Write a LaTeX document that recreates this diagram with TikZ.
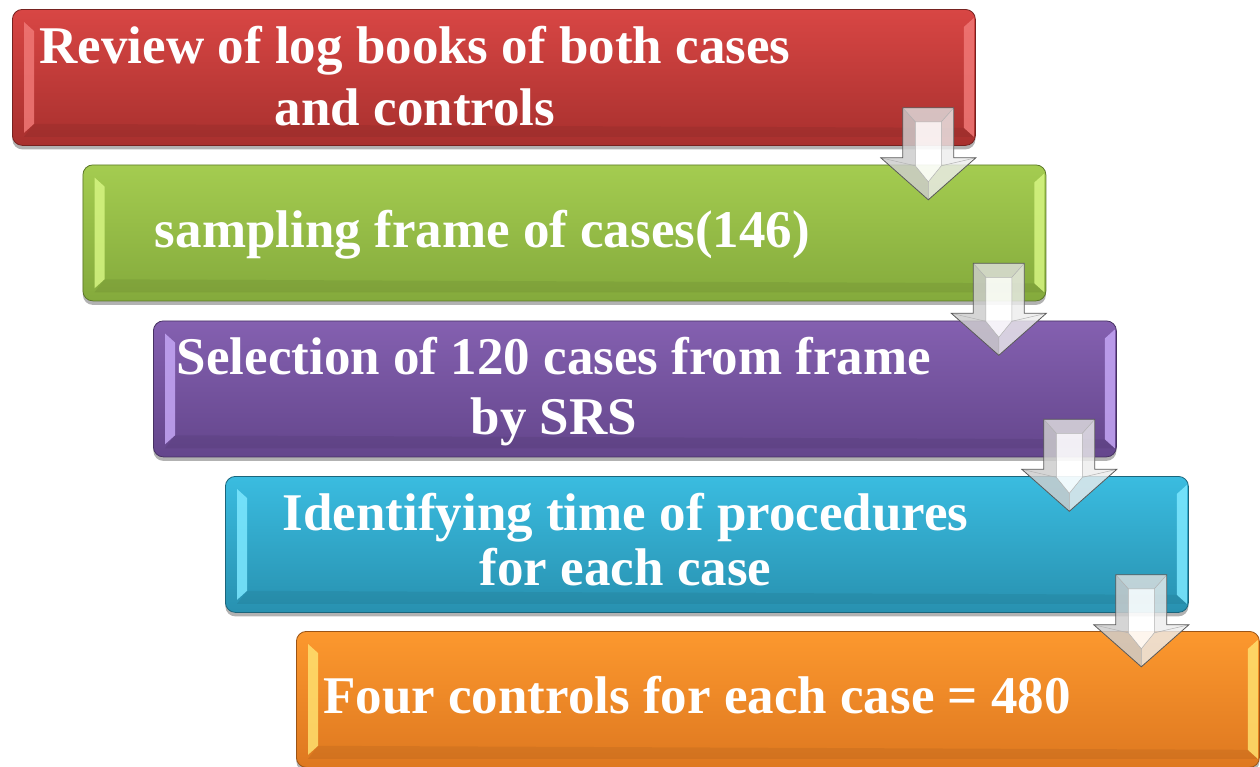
\documentclass[tikz,border=0pt]{standalone}
\usepackage{fontspec}
\setmainfont{Liberation Serif}
\usetikzlibrary{calc,shadows}
\definecolor{redT}{RGB}{216,70,68}
\definecolor{redB}{RGB}{168,48,46}
\definecolor{redL}{RGB}{240,120,118}
\definecolor{greenT}{RGB}{164,204,80}
\definecolor{greenB}{RGB}{132,170,60}
\definecolor{greenL}{RGB}{214,245,130}
\definecolor{purpleT}{RGB}{132,96,176}
\definecolor{purpleB}{RGB}{100,70,140}
\definecolor{purpleL}{RGB}{196,166,245}
\definecolor{cyanT}{RGB}{58,188,224}
\definecolor{cyanB}{RGB}{40,145,176}
\definecolor{cyanL}{RGB}{125,232,255}
\definecolor{orangeT}{RGB}{252,152,46}
\definecolor{orangeB}{RGB}{222,120,32}
\definecolor{orangeL}{RGB}{255,224,110}
\tikzset{
  stepbox/.style={rectangle, rounded corners=10pt, minimum width=963pt,
    minimum height=136pt, inner sep=0pt, anchor=north west, line width=0.8pt,
    drop shadow={shadow xshift=0pt, shadow yshift=-4pt, opacity=0.3, fill=black}},
  steptext/.style={anchor=base, text=white, inner sep=0pt,
    font=\fontsize{53}{60}\selectfont\bfseries},
  arrowline/.style={draw=black!65, line width=0.8pt, line join=miter},
  innerline/.style={draw=black!30, line width=0.5pt},
  blockarrow/.pic={
    \fill[white, opacity=0.8] (-25.5,0) -- (25.5,0) -- (25.5,50) -- (47.5,50) -- (0,92) -- (-47.5,50) -- (-25.5,50) -- cycle;
    \fill[black, opacity=0.16] (-25.5,0) -- (-13,14) -- (-13,58) -- (0,74) -- (0,92) -- (-47.5,50) -- (-25.5,50) -- cycle;
    \fill[black, opacity=0.06] (25.5,0) -- (13,14) -- (13,58) -- (0,74) -- (0,92) -- (47.5,50) -- (25.5,50) -- cycle;
    \fill[black, opacity=0.1] (-25.5,0) -- (25.5,0) -- (13,14) -- (-13,14) -- cycle;
    \fill[white, opacity=0.6] (-13,14) -- (13,14) -- (13,58) -- (0,74) -- (-13,58) -- cycle;
    \draw[innerline] (-25.5,0) -- (-13,14) -- (13,14) -- (25.5,0);
    \draw[innerline] (-13,14) -- (-13,58) -- (0,74) -- (13,58) -- (13,14);
    \draw[innerline] (-47.5,50) -- (-13,58) (47.5,50) -- (13,58) (0,74) -- (0,92);
    \draw[arrowline] (-25.5,0) -- (25.5,0) -- (25.5,50) -- (47.5,50) -- (0,92) -- (-47.5,50) -- (-25.5,50) -- cycle;
  }
}
\newcommand\stepbevel[2]{%
  \fill[#2, opacity=0.85] ($(#1.north west)+(12,13)$) -- ($(#1.north west)+(22,22)$) -- ($(#1.south west)+(22,-22)$) -- ($(#1.south west)+(12,-13)$) -- cycle;
  \fill[#2, opacity=0.85] ($(#1.north east)+(-2,9)$) -- ($(#1.south east)+(-2,-9)$) -- ($(#1.south east)+(-12,-18)$) -- ($(#1.north east)+(-12,18)$) -- cycle;
  \fill[black, opacity=0.06] ($(#1.south west)+(22,-22)$) -- ($(#1.south east)+(-12,-18)$) -- ($(#1.south east)+(-2,-9)$) -- ($(#1.south west)+(12,-9)$) -- cycle;
}
\begin{document}
\begin{tikzpicture}[x=1pt, y=-1pt]
\useasboundingbox (0,0) rectangle (1260,766);
% boxes
\node[stepbox, top color=redT, bottom color=redB, draw=redB!70!black] (b1) at (12,9) {};
\stepbevel{b1}{redL}
\node[stepbox, top color=greenT, bottom color=greenB, draw=greenB!70!black] (b2) at (82.5,164.5) {};
\stepbevel{b2}{greenL}
\node[stepbox, top color=purpleT, bottom color=purpleB, draw=purpleB!70!black] (b3) at (153,320.5) {};
\stepbevel{b3}{purpleL}
\node[stepbox, top color=cyanT, bottom color=cyanB, draw=cyanB!70!black] (b4) at (225,476) {};
\stepbevel{b4}{cyanL}
\node[stepbox, top color=orangeT, bottom color=orangeB, draw=orangeB!70!black] (b5) at (296,631) {};
\stepbevel{b5}{orangeL}
% texts
\node[steptext] (t1a) at ($(b1.north west)+(403,54)$) {Review of log books of both cases};
\node[steptext] (t1b) at ($(b1.north west)+(403,116)$) {and controls};
\node[steptext] (t2) at ($(b2.north west)+(400,83)$) {sampling frame of cases(146)};
\node[steptext] (t3a) at ($(b3.north west)+(401,54)$) {Selection of 120 cases from frame};
\node[steptext] (t3b) at ($(b3.north west)+(401,114)$) {by SRS};
\node[steptext] (t4a) at ($(b4.north west)+(400.5,54)$) {Identifying time of procedures};
\node[steptext] (t4b) at ($(b4.north west)+(400.5,109)$) {for each case};
\node[steptext] (t5) at ($(b5.north west)+(401,82)$) {Four controls for each case = 480};
% arrows
\coordinate (a1) at ($(b1.south east)+(-47.5,-38)$);
\coordinate (a2) at ($(b2.south east)+(-47.5,-38)$);
\coordinate (a3) at ($(b3.south east)+(-47.5,-38)$);
\coordinate (a4) at ($(b4.south east)+(-47.5,-38)$);
\pic at (a1) {blockarrow};
\pic at (a2) {blockarrow};
\pic at (a3) {blockarrow};
\pic at (a4) {blockarrow};
\end{tikzpicture}
\end{document}
